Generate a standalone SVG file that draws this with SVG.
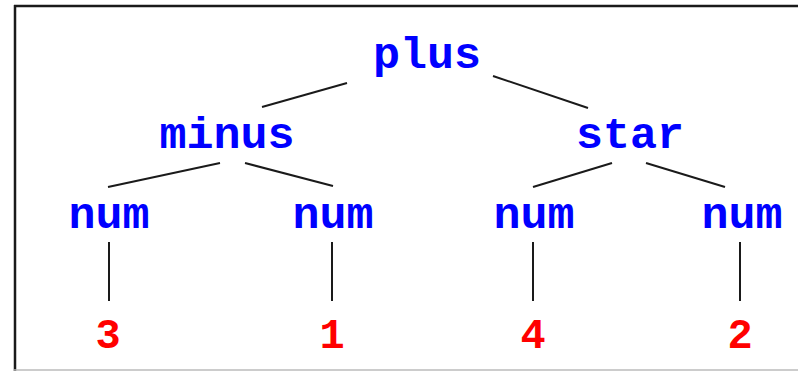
<svg xmlns="http://www.w3.org/2000/svg" width="798" height="371" viewBox="0 0 798 371">
<style>
.n{font-family:"Liberation Mono","Courier New",monospace;font-weight:bold;font-size:45px;fill:#0000ff;text-anchor:middle}
.v{font-family:"Liberation Mono","Courier New",monospace;font-weight:bold;font-size:42px;fill:#ff0000;text-anchor:middle}
.e{stroke:#1a1a1a;stroke-width:2;fill:none}
</style>
<rect width="798" height="371" fill="#ffffff"/>
<g id="frame">
<line x1="14" y1="6" x2="798" y2="6" stroke="#1a1a1a" stroke-width="2.5"/>
<line x1="15" y1="5" x2="15" y2="371" stroke="#1a1a1a" stroke-width="2.5"/>
<line x1="14" y1="370" x2="798" y2="370" stroke="#bbbbbb" stroke-width="1.5"/>
</g>
<g id="connectors">
<line class="e" x1="347" y1="83" x2="262" y2="107"/>
<line class="e" x1="493" y1="76" x2="588" y2="108"/>
<line class="e" x1="220" y1="163" x2="108" y2="187"/>
<line class="e" x1="245" y1="163" x2="333" y2="186"/>
<line class="e" x1="612" y1="163" x2="533" y2="187"/>
<line class="e" x1="646" y1="163" x2="725" y2="187"/>
<line class="e" x1="109" y1="242" x2="109" y2="301"/>
<line class="e" x1="332" y1="242" x2="332" y2="301"/>
<line class="e" x1="533" y1="242" x2="533" y2="301"/>
<line class="e" x1="740" y1="242" x2="740" y2="301"/>
</g>
<g id="plus"><text class="n" x="427" y="68">plus</text></g>
<g id="minus"><text class="n" x="227" y="148">minus</text></g>
<g id="star"><text class="n" x="630" y="148">star</text></g>
<g id="num1"><text class="n" x="109" y="228">num</text></g>
<g id="num2"><text class="n" x="333" y="228">num</text></g>
<g id="num3"><text class="n" x="534" y="228">num</text></g>
<g id="num4"><text class="n" x="742" y="228">num</text></g>
<g id="v3"><text class="v" x="108" y="348">3</text></g>
<g id="v1"><text class="v" x="332" y="348">1</text></g>
<g id="v4"><text class="v" x="533" y="348">4</text></g>
<g id="v2"><text class="v" x="740" y="348">2</text></g>
</svg>
